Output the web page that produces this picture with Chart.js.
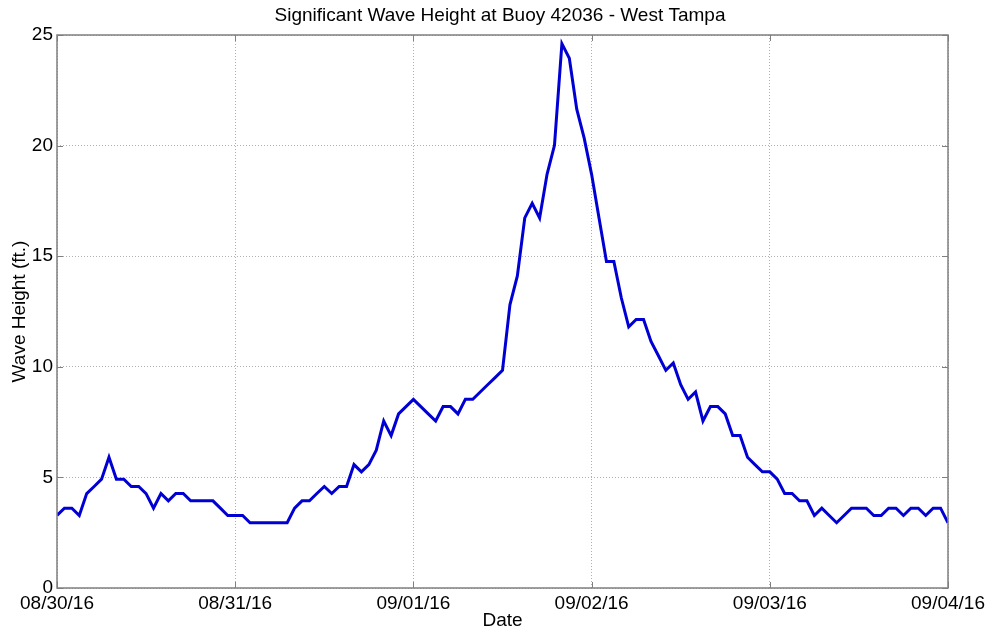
<!DOCTYPE html>
<html>
<head>
<meta charset="utf-8">
<script src="https://cdn.jsdelivr.net/npm/chart.js@4"></script>
<style>
html,body{margin:0;padding:0;background:#fff;}
#wrap{width:992px;height:632px;position:relative;}
</style>
</head>
<body>
<div id="wrap"><canvas id="c" width="992" height="632"></canvas></div>
<script>
// Date tick labels (one per day, every 24 hours)
const dateLabels = ["08/30/16","08/31/16","09/01/16","09/02/16","09/03/16","09/04/16"];
const hoursPerDay = 24;
// Hourly significant wave height (ft.), starting 08/30/16 00:00
const waveHeightFt = [
  3.28,3.61,3.61,3.28,4.27,4.59,4.92,5.91,4.92,4.92,4.59,4.59,4.27,3.61,4.27,3.94,4.27,4.27,3.94,3.94,3.94,3.94,3.61,3.28,
  3.28,3.28,2.95,2.95,2.95,2.95,2.95,2.95,3.61,3.94,3.94,4.27,4.59,4.27,4.59,4.59,5.58,5.25,5.58,6.23,7.55,6.89,7.87,8.20,
  8.53,8.20,7.87,7.55,8.20,8.20,7.87,8.53,8.53,8.86,9.19,9.51,9.84,12.80,14.11,16.73,17.39,16.73,18.70,20.01,24.61,23.95,21.65,20.34,
  18.70,16.73,14.76,14.76,13.12,11.81,12.14,12.14,11.15,10.50,9.84,10.17,9.19,8.53,8.86,7.55,8.20,8.20,7.87,6.89,6.89,5.91,5.58,5.25,
  5.25,4.92,4.27,4.27,3.94,3.94,3.28,3.61,3.28,2.95,3.28,3.61,3.61,3.61,3.28,3.28,3.61,3.61,3.28,3.61,3.61,3.28,3.61,3.61,
  2.95
];
const yTicks = [0,5,10,15,20,25];

const points = waveHeightFt.map((v,i)=>({x:i,y:v}));
const FONT = "'Liberation Sans', Arial, sans-serif";
const GRAY = '#7f7f7f';

const boxPlugin = {
  id:'box',
  afterDraw(chart){
    const {ctx, chartArea:a, scales:{x,y}} = chart;
    ctx.save();
    ctx.strokeStyle = GRAY;
    ctx.lineWidth = 1.5;
    ctx.strokeRect(a.left, a.top, a.right-a.left, a.bottom-a.top);
    ctx.lineWidth = 1;
    const L = 6;
    ctx.beginPath();
    for (let d=0; d<dateLabels.length; d++){
      const px = Math.round(x.getPixelForValue(d*hoursPerDay))+0.5;
      ctx.moveTo(px,a.bottom); ctx.lineTo(px,a.bottom-L);
      ctx.moveTo(px,a.top); ctx.lineTo(px,a.top+L);
    }
    for (const t of yTicks){
      const py = Math.round(y.getPixelForValue(t))+0.5;
      ctx.moveTo(a.left,py); ctx.lineTo(a.left+L,py);
      ctx.moveTo(a.right,py); ctx.lineTo(a.right-L,py);
    }
    ctx.stroke();
    ctx.restore();
  }
};

new Chart(document.getElementById('c'), {
  type:'line',
  data:{datasets:[{
    data:points,
    borderColor:'#0000d4',
    borderWidth:3,
    pointRadius:0,
    tension:0,
    fill:false
  }]},
  options:{
    responsive:false,
    animation:false,
    layout:{padding:{left:8,right:0,top:0,bottom:0}},
    plugins:{
      legend:{display:false},
      tooltip:{enabled:false},
      title:{display:true,text:'Significant Wave Height at Buoy 42036 - West Tampa',
        color:'#000',font:{family:FONT,size:19,weight:'normal',lineHeight:1.2},padding:{top:4,bottom:8.2}}
    },
    scales:{
      x:{
        type:'linear', min:0, max:(dateLabels.length-1)*hoursPerDay,
        afterFit(s){ s.height = 44; },
        afterBuildTicks(s){ s.ticks = dateLabels.map((_,i)=>({value:i*hoursPerDay})); },
        ticks:{color:'#000',font:{family:FONT,size:19},padding:4,maxRotation:0,autoSkip:false,
          callback:(v)=>dateLabels[Math.round(v/hoursPerDay)]},
        grid:{color:'#b0b0b0',lineWidth:1,drawTicks:false},
        border:{display:false,dash:[1,2]},
        title:{display:true,text:'Date',color:'#000',font:{family:FONT,size:19,lineHeight:1.2},padding:{top:0,bottom:0}}
      },
      y:{
        min:0,max:25,
        afterFit(s){ s.width = 49; },
        afterBuildTicks(s){ s.ticks = yTicks.map(v=>({value:v})); },
        ticks:{color:'#000',font:{family:FONT,size:19},padding:4},
        grid:{color:'#b0b0b0',lineWidth:1,drawTicks:false},
        border:{display:false,dash:[1,2]},
        title:{display:true,text:'Wave Height (ft.)',color:'#000',font:{family:FONT,size:19,lineHeight:1.2},padding:{top:0,bottom:0}}
      },
      yRight:{
        type:'linear', position:'right', min:0, max:25,
        afterFit(s){ s.width = 44; },
        ticks:{display:false},
        grid:{display:false,drawTicks:false},
        border:{display:false}
      }
    }
  },
  plugins:[boxPlugin]
});
</script>
</body>
</html>
